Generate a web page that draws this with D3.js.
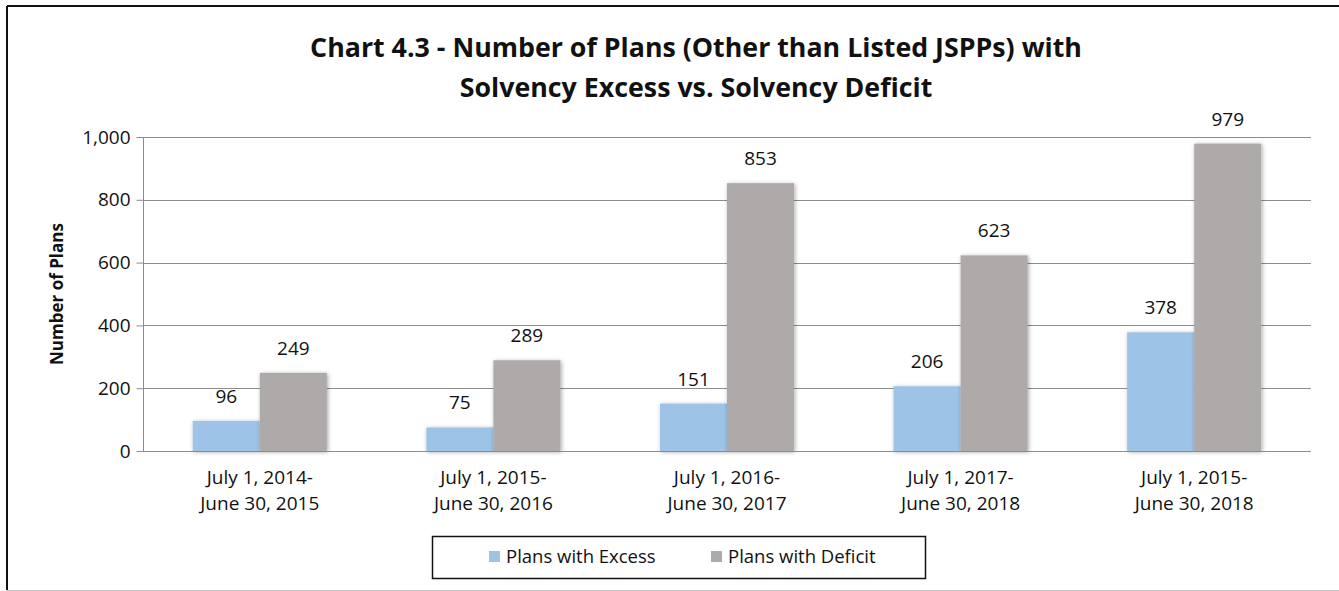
<!DOCTYPE html>
<html>
<head>
<meta charset="utf-8">
<script src="https://cdnjs.cloudflare.com/ajax/libs/d3/7.8.5/d3.min.js"></script>
<style>
  body { margin: 0; background: #fff; }
  text { font-family: "Open Sans", "Noto Sans", sans-serif; fill: #111; }
  .axis path, .axis line { stroke: #8c8c8c; }
  .grid line { stroke: #8c8c8c; }
</style>
</head>
<body>
<div id="chart"></div>
<script>
// ---- data ----
var categories = [
  ["July 1, 2014-", "June 30, 2015"],
  ["July 1, 2015-", "June 30, 2016"],
  ["July 1, 2016-", "June 30, 2017"],
  ["July 1, 2017-", "June 30, 2018"],
  ["July 1, 2015-", "June 30, 2018"]
];
var seriesNames = ["Plans with Excess", "Plans with Deficit"];
var excessValues = [96, 75, 151, 206, 378];
var deficitValues = [249, 289, 853, 623, 979];
var yTicks = [0, 200, 400, 600, 800, 1000];
var titleLines = [
  "Chart 4.3 - Number of Plans (Other than Listed JSPPs) with",
  "Solvency Excess vs. Solvency Deficit"
];

(function (d3) {
  "use strict";

  var W = 1339, H = 591;
  var colors = ["#9dc3e6", "#aeaaaa"];

  var svg = d3.select("#chart").append("svg")
    .attr("width", W)
    .attr("height", H);

  // drop shadow for bars
  var defs = svg.append("defs");
  var f = defs.append("filter").attr("id", "shadow")
    .attr("x", "-20%").attr("y", "-20%").attr("width", "140%").attr("height", "140%");
  f.append("feDropShadow")
    .attr("dx", 1).attr("dy", 1).attr("stdDeviation", 2)
    .attr("flood-color", "#000").attr("flood-opacity", 0.35);

  // outer frame
  svg.append("line").attr("x1", 7).attr("y1", 6).attr("x2", W).attr("y2", 6)
    .attr("stroke", "#111").attr("stroke-width", 2);
  svg.append("line").attr("x1", 7).attr("y1", 6).attr("x2", 7).attr("y2", 590)
    .attr("stroke", "#111").attr("stroke-width", 2);
  svg.append("line").attr("x1", 7).attr("y1", 590.5).attr("x2", W).attr("y2", 590.5)
    .attr("stroke", "#c8c8c8").attr("stroke-width", 1);

  // scales
  var x0 = d3.scaleBand()
    .domain(d3.range(categories.length))
    .range([143, 1311])
    .paddingInner(0.426)
    .paddingOuter(0.213);
  var x1 = d3.scaleBand()
    .domain(d3.range(seriesNames.length))
    .range([0, x0.bandwidth()]);
  var y = d3.scaleLinear().domain([0, 1000]).range([451, 137]);

  // gridlines
  svg.append("g").attr("class", "grid")
    .selectAll("line").data(yTicks.filter(function (t) { return t > 0; }))
    .enter().append("line")
    .attr("x1", 143).attr("x2", 1311)
    .attr("y1", function (d) { return Math.round(y(d)) + 0.5; })
    .attr("y2", function (d) { return Math.round(y(d)) + 0.5; });

  // y axis
  var yAxis = d3.axisLeft(y).tickValues(yTicks).tickSize(7).tickPadding(6)
    .tickFormat(d3.format(","));
  var gy = svg.append("g").attr("class", "axis")
    .attr("transform", "translate(143.5,0)")
    .call(yAxis);
  gy.select(".domain").attr("d", "M0," + y(1000) + "V" + y(0));
  gy.selectAll("text").style("font-size", "19px").attr("fill", "#111");

  // bars
  var rows = categories.map(function (c, i) {
    return [excessValues[i], deficitValues[i]];
  });
  var groups = svg.append("g").selectAll("g").data(rows).enter().append("g")
    .attr("transform", function (d, i) { return "translate(" + x0(i) + ",0)"; });

  groups.selectAll("rect").data(function (d) { return d; }).enter().append("rect")
    .attr("x", function (d, j) { return x1(j); })
    .attr("y", function (d) { return y(d); })
    .attr("width", x1.bandwidth())
    .attr("height", function (d) { return y(0) - y(d); })
    .attr("fill", function (d, j) { return colors[j]; })
    .attr("filter", "url(#shadow)");

  groups.selectAll("text.val").data(function (d) { return d; }).enter().append("text")
    .attr("class", "val")
    .attr("x", function (d, j) { return x1(j) + x1.bandwidth() / 2; })
    .attr("y", function (d) { return y(d) - 18; })
    .attr("text-anchor", "middle")
    .style("font-size", "19px")
    .text(function (d) { return d; });

  // x axis line
  svg.append("line").attr("x1", 143).attr("x2", 1311)
    .attr("y1", Math.round(y(0)) + 0.5).attr("y2", Math.round(y(0)) + 0.5)
    .attr("stroke", "#8c8c8c");

  // x labels
  var xl = svg.append("g").selectAll("text").data(categories).enter().append("text")
    .attr("text-anchor", "middle")
    .attr("x", function (d, i) { return x0(i) + x0.bandwidth() / 2; })
    .attr("y", 484)
    .style("font-size", "19px");
  xl.append("tspan").text(function (d) { return d[0]; })
    .attr("x", function (d, i) { return x0(i) + x0.bandwidth() / 2; });
  xl.append("tspan").text(function (d) { return d[1]; })
    .attr("x", function (d, i) { return x0(i) + x0.bandwidth() / 2; })
    .attr("dy", 26);

  // y axis label
  svg.append("text")
    .attr("transform", "translate(63,294)rotate(-90)")
    .attr("text-anchor", "middle")
    .style("font-size", "17px").style("font-weight", "bold")
    .text("Number of Plans");

  // title, sized so the first line spans the same width as the original
  var titleSize = 23;
  var titles = titleLines.map(function (t, i) {
    return svg.append("text")
      .attr("x", 696).attr("y", 57 + i * 40)
      .attr("text-anchor", "middle")
      .style("font-size", titleSize + "px").style("font-weight", "bold")
      .text(t);
  });
  var w0 = titles[0].node().getComputedTextLength();
  titleSize = titleSize * 772 / w0;
  titles.forEach(function (tt) { tt.style("font-size", titleSize + "px"); });

  // legend
  var lg = svg.append("g");
  lg.append("rect").attr("x", 432.5).attr("y", 536.5).attr("width", 493).attr("height", 42)
    .attr("fill", "#fff").attr("stroke", "#111").attr("stroke-width", 1.5);
  var legendX = [489, 711];
  seriesNames.forEach(function (n, i) {
    lg.append("rect").attr("x", legendX[i]).attr("y", 551).attr("width", 11).attr("height", 11)
      .attr("fill", colors[i]);
    lg.append("text").attr("x", legendX[i] + 17).attr("y", 563)
      .style("font-size", "18.5px").text(n);
  });
})(d3);
</script>
</body>
</html>
